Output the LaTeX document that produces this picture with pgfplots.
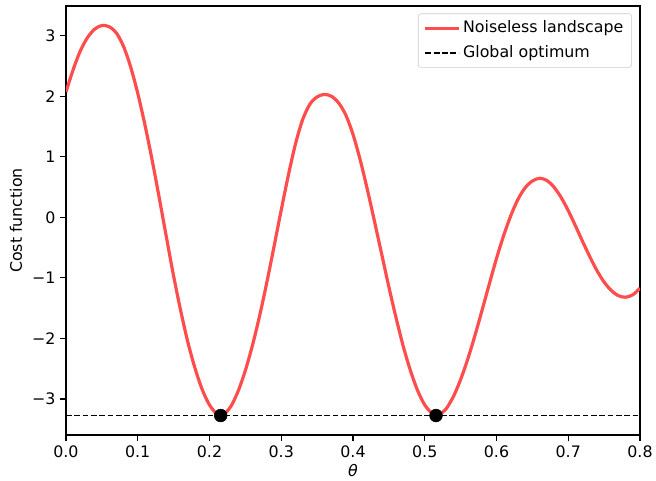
\documentclass[border=0pt]{standalone}
\usepackage{fontspec}
\setmainfont{DejaVu Sans}
\usepackage{pgfplots}
\pgfplotsset{compat=1.18}
\definecolor{landscape}{RGB}{255,77,77}
\definecolor{legendedge}{RGB}{204,204,204}

\begin{document}
\begin{tikzpicture}
\useasboundingbox (-47.5pt,-33pt) rectangle (424.8pt,313.2pt);
\begin{axis}[
  scale only axis,
  width=413.3pt, height=308.9pt,
  xmin=0, xmax=0.8, ymin=-3.597, ymax=3.492,
  axis line style={line width=0.9pt},
  tick align=outside, tick pos=left,
  major tick length=4pt,
  every tick/.style={black, line width=0.9pt},
  xtick={0,0.1,0.2,0.3,0.4,0.5,0.6,0.7,0.8},
  xticklabels={0.0,0.1,0.2,0.3,0.4,0.5,0.6,0.7,0.8},
  ytick={-3,-2,-1,0,1,2,3},
  yticklabels={−3,−2,−1,0,1,2,3},
  ticklabel style={font=\fontsize{11.4}{13}\selectfont},
  xlabel={\textit{θ}},
  ylabel={Cost function},
  label style={font=\fontsize{11.4}{13}\selectfont},
  xlabel style={at={(axis description cs:0.5,-0.0816)}, anchor=center},
  ylabel style={at={(axis description cs:-0.087,0.5)}, anchor=center},
  legend cell align=left,
  legend image code/.code={\draw[#1] (0pt,0pt) -- (24pt,0pt);},
  legend style={at={(1,1)}, anchor=north east, xshift=-5.8pt, yshift=-5.4pt,
    draw=legendedge, rounded corners=2pt, fill=white, fill opacity=0.8, text opacity=1,
    font=\fontsize{11.4}{13}\selectfont, inner xsep=4pt, inner ysep=3pt,
    row sep=3pt,
    nodes={inner sep=2pt, text height=8.5pt, text depth=2.3pt}},
]
% cost landscape without shot noise
\addplot[landscape, line width=2.3pt, smooth] coordinates {
  (0.000,2.07) (0.010,2.44) (0.020,2.75) (0.030,2.97) (0.040,3.11)
  (0.050,3.17) (0.060,3.15) (0.070,3.05) (0.080,2.83) (0.090,2.49)
  (0.100,2.05) (0.110,1.53) (0.120,0.95) (0.130,0.32) (0.140,-0.33)
  (0.150,-0.97) (0.160,-1.55) (0.170,-2.07) (0.180,-2.50) (0.190,-2.85)
  (0.200,-3.10) (0.210,-3.25) (0.2156,-3.275) (0.220,-3.26) (0.230,-3.12)
  (0.240,-2.87) (0.250,-2.53) (0.260,-2.11) (0.270,-1.62) (0.280,-1.07)
  (0.290,-0.48) (0.300,0.12) (0.310,0.70) (0.320,1.22) (0.330,1.62)
  (0.340,1.87) (0.350,1.99) (0.360,2.03) (0.370,2.00) (0.380,1.89)
  (0.390,1.69) (0.400,1.37) (0.410,0.95) (0.420,0.46) (0.430,-0.07)
  (0.440,-0.61) (0.450,-1.15) (0.460,-1.66) (0.470,-2.13) (0.480,-2.53)
  (0.490,-2.86) (0.500,-3.10) (0.510,-3.24) (0.5157,-3.275) (0.520,-3.265)
  (0.530,-3.16) (0.540,-2.96) (0.550,-2.68) (0.560,-2.34) (0.570,-1.95)
  (0.580,-1.53) (0.590,-1.10) (0.600,-0.68) (0.610,-0.30) (0.620,0.03)
  (0.630,0.30) (0.640,0.49) (0.650,0.60) (0.660,0.645) (0.670,0.61)
  (0.680,0.50) (0.690,0.33) (0.700,0.11) (0.710,-0.14) (0.720,-0.40)
  (0.730,-0.65) (0.740,-0.88) (0.750,-1.07) (0.760,-1.21) (0.770,-1.295)
  (0.780,-1.32) (0.790,-1.28) (0.800,-1.17)
};
\addlegendentry{Noiseless landscape}
% level of the global minimum
\addplot[black, line width=1.15pt, dash pattern=on 4.2pt off 1.8pt] coordinates {
  (0,-3.275) (0.8,-3.275)
};
\addlegendentry{Global optimum}
% the two minimisers
\addplot[only marks, mark=*, mark size=4.6pt, black, forget plot] coordinates {
  (0.2156,-3.275) (0.5157,-3.275)
};
\end{axis}
\end{tikzpicture}
\end{document}
